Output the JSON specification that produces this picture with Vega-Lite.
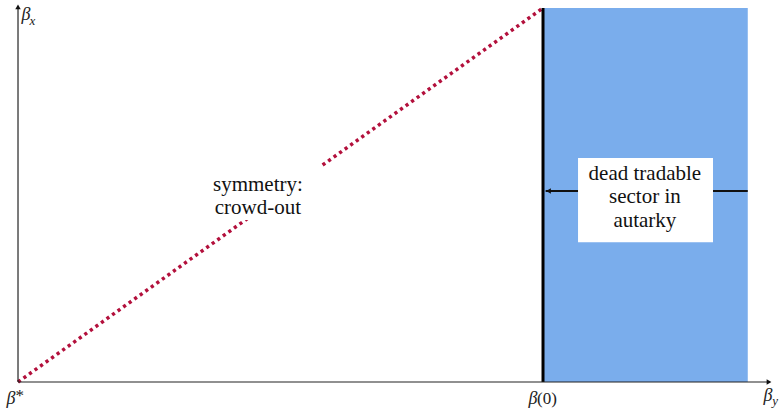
{
  "$schema": "https://vega.github.io/schema/vega-lite/v6.json",
  "width": 780,
  "height": 408,
  "padding": 0,
  "autosize": {"type": "none"},
  "background": "white",
  "config": {"view": {"stroke": null}},
  "datasets": {
    "sector": [{"x1": 1, "x2": 1.39, "y1": 0, "y2": 1}],
    "boxes": [
      {"box": "dead", "x1": 1.0667, "x2": 1.3238, "y1": 0.374, "y2": 0.599},
      {"box": "sym", "x1": 0.337, "x2": 0.579, "y1": 0.433, "y2": 0.58}
    ],
    "diag": [{"bx": 0, "by": 0}, {"bx": 1, "by": 1}],
    "arrow": [{"x1": 1.005, "x2": 1.39, "y": 0.511}],
    "border": [{"x": 1, "y1": 0, "y2": 1}],
    "axes": [
      {"axis": "x", "x1": 0, "x2": 1.428, "y1": 0, "y2": 0},
      {"axis": "y", "x1": 0, "x2": 0, "y1": 0, "y2": 0.998}
    ],
    "heads": [
      {"dir": "up", "x": 0, "y": 1.003},
      {"dir": "right", "x": 1.4305, "y": 0},
      {"dir": "left", "x": 1.0105, "y": 0.511}
    ],
    "notes": [
      {"label": "dead tradable", "x": 1.194, "y": 0.556},
      {"label": "sector in", "x": 1.194, "y": 0.494},
      {"label": "autarky", "x": 1.194, "y": 0.43},
      {"label": "symmetry:", "x": 0.457, "y": 0.527},
      {"label": "crowd-out", "x": 0.457, "y": 0.465}
    ],
    "symbols": [
      {"label": "β", "x": 0.0152, "y": 0.981},
      {"label": "β", "x": -0.0133, "y": -0.045},
      {"label": "β", "x": 0.981, "y": -0.045},
      {"label": "β", "x": 1.4286, "y": -0.037}
    ],
    "upright": [
      {"label": "*", "x": 0.0035, "y": -0.037},
      {"label": "(0)", "x": 1.0076, "y": -0.045}
    ],
    "subs": [
      {"label": "x", "x": 0.0276, "y": 0.964},
      {"label": "y", "x": 1.442, "y": -0.05}
    ]
  },
  "layer": [
    {
      "data": {"name": "sector"},
      "mark": {"type": "rect", "fill": "#7aadec", "stroke": null},
      "encoding": {
        "x": {"field": "x1", "type": "quantitative", "scale": {"domain": [-0.0343, 1.4514], "nice": false, "zero": false}, "axis": null},
        "x2": {"field": "x2"},
        "y": {"field": "y1", "type": "quantitative", "scale": {"domain": [-0.0695, 1.0214], "nice": false, "zero": false}, "axis": null},
        "y2": {"field": "y2"}
      }
    },
    {
      "data": {"name": "arrow"},
      "mark": {"type": "rule", "color": "#111111", "strokeWidth": 2},
      "encoding": {
        "x": {"field": "x1", "type": "quantitative"},
        "x2": {"field": "x2"},
        "y": {"field": "y", "type": "quantitative"}
      }
    },
    {
      "data": {"name": "diag"},
      "mark": {"type": "line", "color": "#b3103c", "strokeWidth": 3.5, "strokeDash": [3.2, 3.6], "strokeCap": "butt"},
      "encoding": {
        "x": {"field": "bx", "type": "quantitative"},
        "y": {"field": "by", "type": "quantitative"}
      }
    },
    {
      "data": {"name": "boxes"},
      "mark": {"type": "rect", "fill": "white", "stroke": null},
      "encoding": {
        "x": {"field": "x1", "type": "quantitative"},
        "x2": {"field": "x2"},
        "y": {"field": "y1", "type": "quantitative"},
        "y2": {"field": "y2"}
      }
    },
    {
      "data": {"name": "border"},
      "mark": {"type": "rule", "color": "black", "strokeWidth": 3},
      "encoding": {
        "x": {"field": "x", "type": "quantitative"},
        "y": {"field": "y1", "type": "quantitative"},
        "y2": {"field": "y2"}
      }
    },
    {
      "data": {"name": "axes"},
      "mark": {"type": "rule", "color": "#222222", "strokeWidth": 1.2},
      "encoding": {
        "x": {"field": "x1", "type": "quantitative"},
        "x2": {"field": "x2"},
        "y": {"field": "y1", "type": "quantitative"},
        "y2": {"field": "y2"}
      }
    },
    {
      "data": {"name": "heads"},
      "mark": {"type": "point", "filled": true, "color": "#111111", "opacity": 1, "size": 30},
      "encoding": {
        "x": {"field": "x", "type": "quantitative"},
        "y": {"field": "y", "type": "quantitative"},
        "shape": {"field": "dir", "type": "nominal", "scale": {"domain": ["up", "right", "left"], "range": ["triangle-up", "triangle-right", "triangle-left"]}, "legend": null}
      }
    },
    {
      "data": {"name": "notes"},
      "mark": {"type": "text", "font": "Liberation Serif", "fontSize": 21, "color": "#111111", "align": "center", "baseline": "middle"},
      "encoding": {
        "x": {"field": "x", "type": "quantitative"},
        "y": {"field": "y", "type": "quantitative"},
        "text": {"field": "label"}
      }
    },
    {
      "data": {"name": "symbols"},
      "mark": {"type": "text", "font": "Liberation Serif", "fontSize": 18, "fontStyle": "italic", "color": "#222222", "align": "center", "baseline": "middle"},
      "encoding": {
        "x": {"field": "x", "type": "quantitative"},
        "y": {"field": "y", "type": "quantitative"},
        "text": {"field": "label"}
      }
    },
    {
      "data": {"name": "upright"},
      "mark": {"type": "text", "font": "Liberation Serif", "fontSize": 17, "color": "#222222", "align": "center", "baseline": "middle"},
      "encoding": {
        "x": {"field": "x", "type": "quantitative"},
        "y": {"field": "y", "type": "quantitative"},
        "text": {"field": "label"}
      }
    },
    {
      "data": {"name": "subs"},
      "mark": {"type": "text", "font": "Liberation Serif", "fontSize": 13, "fontStyle": "italic", "color": "#222222", "align": "center", "baseline": "middle"},
      "encoding": {
        "x": {"field": "x", "type": "quantitative"},
        "y": {"field": "y", "type": "quantitative"},
        "text": {"field": "label"}
      }
    }
  ]
}
